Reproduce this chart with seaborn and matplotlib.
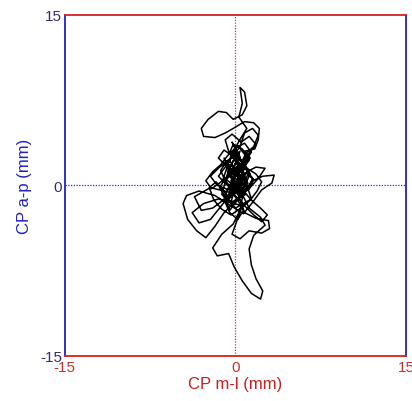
import matplotlib
matplotlib.use("Agg")
import matplotlib.pyplot as plt
import seaborn as sns
import pandas as pd

# CP trajectory (mm)
cp_ml = [0.0, -0.5, 0.4, -0.3, 0.6, -0.8, 0.9, -0.4, 0.3, 1.2, 0.2, -0.6, -1.5, -0.2, 1.0,
         0.5, -0.7, -1.2, 0.0, 1.4, 0.8, -0.3, 0.5, 1.0, 0.3, 0.6, 0.4, 0.8, 1.0, 0.6,
         -0.2, -0.8, -1.5, -2.4, -3.0, -2.8, -1.8, -0.9, -0.2, 0.8, 1.6, 2.1, 2.0, 1.7, 0.8,
         1.3, 0.5, -0.4, -1.0, -0.5, 0.4, 1.5, 2.4, 3.4, 3.2, 2.3, 1.5, 0.7, -0.4, -1.8,
         -3.2, -4.3, -4.6, -4.2, -3.4, -2.6, -1.8, -1.0, 0.2, 0.8, 0.4, -0.2, -1.2, -2.0, -1.6,
         -0.6, -0.1, 0.6, 1.4, 2.2, 2.4, 1.8, 1.4, 1.2, 1.6, 2.6, 2.2, 1.2, 0.5, -0.4,
         -1.0, -0.4, 0.3, -0.6, -2.2, -3.6, -3.0, -2.0, -1.2, 0.0, 1.0, 1.8, 2.6, 2.0, 1.1,
         0.2, -0.5, -1.4, -2.2, -1.6, -0.6, 0.6, 0.1, -0.3, 0.7, -0.9, 0.4, -0.2, 1.1, -0.6,
         0.2, 0.9, -0.4, -1.1, 0.3, 0.8, -0.1, -0.7, 0.5, 1.3, 0.1, -0.5, 0.6, -0.2, 0.0,
         0.3, 0.9, 1.5, 1.1, 0.4, -0.3, -0.9, -1.3, -0.8, 0.0,
         0.7, 1.2, 0.8, 0.1, -0.6, -1.1, -1.7, -2.3, -1.9, -1.2,
         -0.4, 0.5, 1.3, 1.9, 2.3, 1.8, 1.0, 0.2, -0.5, -0.2,
         0.6, 1.1, 0.7, -0.1, -0.8, -1.5, -1.0, -0.3, 0.4, 1.0,
         1.6, 1.2, 0.5, -0.2, -0.9, -1.4, -0.9, -0.1, 0.7, 0.3,
         -0.4, 0.2, 0.9, 1.4, 0.8, 0.0, -0.7, -1.3, -2.0, -2.6,
         -2.1, -1.4, -0.6, 0.1, 0.8, 1.5, 2.2, 2.8, 2.3, 1.6,
         0.9, 0.3, -0.3, -0.9, -0.5, 0.2, 0.7, 0.2, -0.4, -0.1,
         0.8, 1.8, 2.9, 3.0, 2.3, 1.2, 0.4, -0.3, 0.1, 0.6,
         -1.5, -2.8, -3.8, -3.2, -2.2, -1.4, -0.6,
         0.2, -0.6, -0.9, -0.3, 0.5, 1.2, 1.8, 1.0, 0.3,
         0.9, 1.6, 2.0, 1.5, 0.8, 0.4, -0.2, 0.6]
cp_ap = [0.0, 1.2, 2.5, 3.8, 2.0, 0.5, -0.8, -1.5, 1.0, 2.2, 3.5, 2.0, 0.8, -0.5, 0.3,
         1.8, 1.0, -0.8, -2.0, -1.2, 0.6, 2.8, 4.2, 5.0, 6.0, 7.2, 8.6, 8.2, 7.0, 6.2,
         5.8, 6.4, 6.5, 5.8, 5.0, 4.3, 4.2, 4.6, 5.0, 5.6, 5.5, 5.0, 4.0, 3.2, 3.0,
         2.4, 1.5, 0.2, -1.0, -2.2, -1.0, 0.4, 0.8, 0.9, 0.2, -0.4, -1.5, -2.5, -1.8, -0.9,
         -0.5, -0.9, -1.6, -3.0, -4.0, -4.6, -3.6, -2.4, -1.2, 0.0, -2.2, -3.4, -4.3, -5.5, -6.2,
         -6.0, -7.2, -8.4, -9.5, -10.0, -9.3, -8.2, -7.0, -5.6, -4.4, -3.5, -2.8, -2.0, -0.6, 0.8,
         2.4, 1.2, 0.2, -0.6, -0.2, -1.0, -2.2, -2.0, -1.4, -0.2, 1.2, 1.6, 1.5, 0.6, -0.4,
         0.8, 2.2, 1.6, 0.8, 0.0, -0.4, 0.4, 1.6, 0.0, 1.1, 2.0, 3.0, 1.4, 0.2, -1.2,
         -0.3, 1.9, 2.6, 0.5, -0.9, 0.9, 2.3, 1.2, -0.6, 1.0, 2.8, 1.5, 0.3, -0.8, 0.0,
         0.5, 1.1, 0.6, -0.2, -0.7, -0.3, 0.4, 1.3, 2.1, 2.6,
         2.0, 1.2, 0.3, -0.5, -1.1, -0.4, 0.3, -0.2, -1.3, -2.1,
         -2.6, -2.0, -1.3, -0.5, 0.3, 1.0, 1.5, 2.0, 2.9, 3.6,
         3.2, 2.4, 1.6, 1.0, 1.7, 2.4, 3.1, 2.6, 1.9, 1.3,
         0.5, -0.3, -0.9, -1.6, -1.0, -0.2, 0.6, 1.2, 0.7, -0.1,
         0.4, 1.5, 2.2, 2.9, 3.7, 3.3, 2.6, 1.8, 1.2, 0.4,
         -0.3, 0.2, 0.9, 0.1, -0.6, -1.4, -2.0, -2.6, -3.2, -2.6,
         -1.9, -1.2, -0.7, -1.5, -2.4, -3.0, -2.2, -1.3, -0.5, 0.2,
         -2.4, -2.9, -3.1, -3.8, -4.2, -4.0, -4.7, -4.3, -3.2, -1.8,
         -1.2, -1.6, -2.4, -3.3, -3.0, -2.0, -1.0,
         1.8, 3.0, 4.0, 4.5, 3.8, 4.3, 3.6, 2.6, 1.5,
         2.8, 3.4, 4.4, 5.0, 4.6, 3.4, 2.6, 1.2]

x_ticks = [-15, 0, 15]
y_ticks = [-15, 0, 15]

df = pd.DataFrame({"ml": cp_ml, "ap": cp_ap})

sns.set_theme(style="white")
plt.rcParams['font.family'] = ['Liberation Sans', 'DejaVu Sans']

fig = plt.figure(figsize=(4.12, 4.02), dpi=100)
ax = fig.add_axes([0.157, 0.112, 0.829, 0.849])

ax.axvline(0, color="#b04040", lw=0.9, ls=(0, (1, 1.2)), zorder=1)
ax.axhline(0, color="#3030c0", lw=0.9, ls=(0, (1, 1.2)), zorder=1)

sns.lineplot(data=df, x="ml", y="ap", sort=False, estimator=None, color="black",
             lw=1.1, ax=ax, zorder=3)

ax.set_xlim(-15, 15)
ax.set_ylim(-15, 15)
ax.set_xticks(x_ticks)
ax.set_yticks(y_ticks)
ax.set_xticklabels([str(v) for v in x_ticks], color="#c83030", fontsize=11)
ax.set_yticklabels([str(v) for v in y_ticks], color="#303070", fontsize=11)
ax.tick_params(axis="both", length=0, pad=2)
ax.tick_params(axis="x", pad=3)

for s in ["top", "bottom"]:
    ax.spines[s].set_color("#d42020")
    ax.spines[s].set_linewidth(1.3)
for s in ["left", "right"]:
    ax.spines[s].set_color("#2020c8")
    ax.spines[s].set_linewidth(1.3)
    ax.spines[s].set_visible(True)

ax.set_xlabel("CP m-l (mm)", color="#c82020", fontsize=12, labelpad=1)
ax.set_ylabel("CP a-p (mm)", color="#2020c8", fontsize=12, labelpad=6)

fig.savefig("out.png", dpi=100, facecolor="white")
